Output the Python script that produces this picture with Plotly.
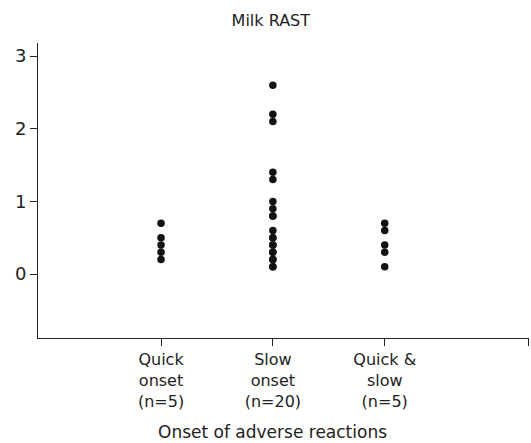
import plotly.graph_objects as go

# Milk RAST scores grouped by onset of adverse reactions
categories = ["Quick<br>onset<br>(n=5)", "Slow<br>onset<br>(n=20)", "Quick &<br>slow<br>(n=5)"]
quick_onset = [0.7, 0.5, 0.4, 0.3, 0.2]
slow_onset = [2.6, 2.2, 2.1, 1.4, 1.3, 1.0, 0.9, 0.8, 0.6, 0.5,
               0.5, 0.4, 0.4, 0.3, 0.3, 0.2, 0.2, 0.1, 0.1, 0.8]
quick_and_slow = [0.7, 0.6, 0.4, 0.3, 0.1]
y_ticks = [0, 1, 2, 3]

groups = [quick_onset, slow_onset, quick_and_slow]

FONT = "'DejaVu Sans', sans-serif"
INK = "#222222"

fig = go.Figure()
for i, vals in enumerate(groups, start=1):
    fig.add_trace(go.Scatter(
        x=[i] * len(vals),
        y=vals,
        mode="markers",
        marker=dict(color="#111111", size=7.5, line=dict(width=0)),
        showlegend=False,
    ))

x_right = 4.29
fig.update_layout(
    width=531,
    height=443,
    margin=dict(l=38, r=2, t=43, b=105),
    paper_bgcolor="white",
    plot_bgcolor="white",
    font=dict(family=FONT, color=INK, size=17),
    title=dict(text="Milk RAST", x=0.51, xanchor="center", y=0.955, yanchor="middle",
               font=dict(size=16, family=FONT, color=INK)),
    xaxis=dict(
        range=[-0.1, x_right],
        tickmode="array",
        tickvals=[1, 2, 3, 4.285],
        ticktext=categories + [""],
        ticks="outside",
        ticklen=7,
        tickcolor=INK,
        showline=True,
        linecolor=INK,
        linewidth=1,
        showgrid=False,
        zeroline=False,
        tickfont=dict(size=16, family=FONT, color=INK),
    ),
    yaxis=dict(
        range=[-0.88, 3.18],
        tickmode="array",
        tickvals=y_ticks,
        ticks="outside",
        ticklen=7,
        tickcolor=INK,
        showline=True,
        linecolor=INK,
        linewidth=1,
        showgrid=False,
        zeroline=False,
        tickfont=dict(size=18, family=FONT, color=INK),
    ),
    annotations=[dict(
        text="Onset of adverse reactions",
        xref="x", yref="paper", x=2, y=-0.318, xanchor="center", yanchor="middle",
        showarrow=False, font=dict(size=17, family=FONT, color=INK),
    )],
)

fig.write_html("out.html")
